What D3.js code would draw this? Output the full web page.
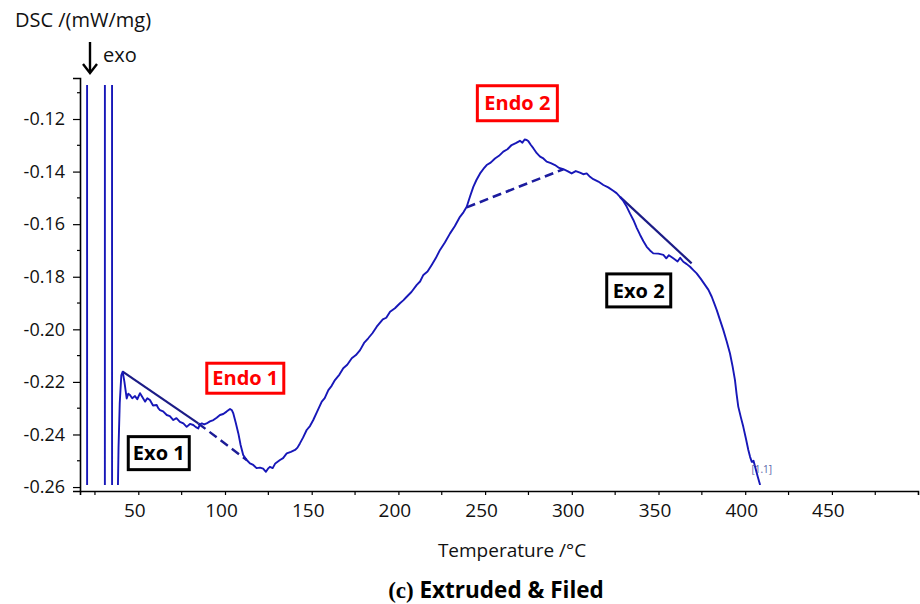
<!DOCTYPE html>
<html>
<head>
<meta charset="utf-8">
<script src="https://cdn.jsdelivr.net/npm/d3@7"></script>
<style>
  html, body { margin: 0; padding: 0; background: #ffffff; }
  svg { display: block; }
</style>
</head>
<body>
<svg id="chart" width="920" height="604"></svg>
<script>
// DSC heating scan: temperature (°C) and heat flow (mW/mg)
const temperature = [
  20.4, 20.5, 30.7, 30.8, 34.8, 34.9, 38.1, 38.2, 38.6, 39.3, 40.2, 41.0, 42.0, 43.3, 44.2, 45.2,
  46.5, 48.1, 49.4, 51.0, 52.4, 53.9, 55.2, 56.7, 58.5, 60.6, 61.5, 62.5, 64.3, 66.4, 68.2, 70.2,
  72.0, 74.0, 76.0, 77.9, 79.8, 81.7, 83.2, 84.6, 85.5, 86.6, 88.0, 89.4, 91.3, 93.3, 95.2, 97.1,
  99.0, 100.9, 102.9, 104.0, 104.8, 106.2, 107.7, 109.0, 110.5, 112.5, 114.4, 116.3, 118.2, 120.2,
  122.0, 123.6, 124.8, 125.9, 127.5, 129.0, 131.7, 133.5, 135.6, 138.0, 140.4, 141.8, 143.2, 145.0,
  147.1, 149.0, 150.9, 153.0, 155.8, 157.5, 159.6, 161.5, 163.4, 166.0, 168.2, 170.5, 173.1, 175.5,
  177.9, 180.2, 182.6, 185.0, 187.5, 191.0, 193.0, 195.2, 198.0, 200.9, 202.8, 204.8, 207.5, 210.6,
  212.5, 214.4, 216.8, 219.2, 221.5, 224.0, 226.8, 229.8, 232.5, 235.5, 237.5, 239.4, 241.3, 243.2,
  245.0, 247.1, 249.0, 250.9, 253.2, 255.7, 258.0, 260.5, 262.9, 265.3, 267.7, 270.1, 271.5, 272.8,
  274.0, 275.0, 276.3, 277.8, 279.8, 281.7, 283.6, 285.5, 287.9, 290.3, 292.7, 295.1, 297.5, 299.9,
  302.3, 304.7, 306.6, 308.6, 310.5, 312.4, 315.3, 318.2, 321.0, 323.9, 325.8, 327.8, 329.7, 331.7,
  333.6, 335.5, 337.5, 339.4, 341.3, 343.2, 345.1, 347.0, 349.9, 352.8, 354.5, 356.0, 358.5, 361.0,
  362.5, 364.3, 366.3, 368.2, 370.1, 372.0, 374.4, 376.8, 378.8, 380.7, 382.1, 383.6, 385.5, 387.4,
  389.3, 391.2, 392.7, 394.1, 395.0, 396.0, 397.5, 398.9, 400.4, 401.8, 402.8, 403.8, 404.8, 405.7,
  407.2, 408.6
];
const heatFlow = [
  0.5, -0.5, -0.5, 0.5, 0.5, -0.5, -0.5, -0.262, -0.245, -0.228, -0.2175, -0.2161, -0.2200, -0.2263, -0.2245, -0.2250,
  -0.2262, -0.2254, -0.2266, -0.2243, -0.2258, -0.2275, -0.2262, -0.2269, -0.2290, -0.2288, -0.2300, -0.2307, -0.2312, -0.2326, -0.2330, -0.2345,
  -0.2338, -0.2352, -0.2358, -0.2371, -0.2360, -0.2364, -0.2372, -0.2377, -0.2362, -0.2358, -0.2362, -0.2358, -0.2350, -0.2345, -0.2336, -0.2326,
  -0.2322, -0.2313, -0.2303, -0.2308, -0.2320, -0.2355, -0.2396, -0.2440, -0.2478, -0.2497, -0.2510, -0.2516, -0.2528, -0.2526,
  -0.2530, -0.2542, -0.2530, -0.2523, -0.2528, -0.2510, -0.2497, -0.2490, -0.2472, -0.2466, -0.2459, -0.2450, -0.2434, -0.2412,
  -0.2383, -0.2368, -0.2345, -0.2315, -0.2275, -0.2262, -0.2231, -0.2215, -0.2193, -0.2172, -0.2148, -0.2135, -0.2110, -0.2098,
  -0.2079, -0.2052, -0.2034, -0.2015, -0.1990, -0.1962, -0.1956, -0.1933, -0.1920, -0.1901, -0.1890, -0.1876, -0.1858, -0.1831,
  -0.1818, -0.1793, -0.1780, -0.1755, -0.1730, -0.1698, -0.1670, -0.1635, -0.1608, -0.1572, -0.1555, -0.1534, -0.1495, -0.1458,
  -0.1432, -0.1407, -0.1390, -0.1375, -0.1366, -0.1350, -0.1340, -0.1324, -0.1315, -0.1299, -0.1292, -0.1283, -0.1290, -0.1278,
  -0.1280, -0.1285, -0.1298, -0.1311, -0.1330, -0.1343, -0.1350, -0.1362, -0.1368, -0.1375, -0.1386, -0.1391, -0.1398, -0.1407,
  -0.1398, -0.1404, -0.1410, -0.1407, -0.1420, -0.1429, -0.1438, -0.1451, -0.1460, -0.1473, -0.1482, -0.1496, -0.1512, -0.1534,
  -0.1560, -0.1584, -0.1615, -0.1641, -0.1665, -0.1686, -0.1700, -0.1711, -0.1712, -0.1717, -0.1730, -0.1718, -0.1730, -0.1742,
  -0.1728, -0.1743, -0.1752, -0.1762, -0.1775, -0.1787, -0.1808, -0.1831, -0.1850, -0.1876, -0.1900, -0.1927, -0.1965, -0.2003,
  -0.2045, -0.2091, -0.2140, -0.2193, -0.2245, -0.2294, -0.2335, -0.2371, -0.2415, -0.2459, -0.2485, -0.2504, -0.2500, -0.2523,
  -0.2560, -0.2592
];

// Construction baselines for the thermal events
const exo1Solid = [[41.0, -0.2161], [84.6, -0.2358]];
const exo1Dashed = [[84.6, -0.2358], [112.5, -0.2497]];
const endo2Dashed = [[239.4, -0.1536], [295.1, -0.1391]];
const exo2Solid = [[327.8, -0.1496], [369.1, -0.1749]];

// Event labels (centre position in data units)
const eventLabels = [
  { text: "Endo 1", t: 111.7, v: -0.2186, kind: "endo", w: 77, h: 30 },
  { text: "Exo 1",  t: 61.8,  v: -0.2471, kind: "exo",  w: 61, h: 33 },
  { text: "Endo 2", t: 268.6, v: -0.1140, kind: "endo", w: 80, h: 35 },
  { text: "Exo 2",  t: 338.6, v: -0.1852, kind: "exo",  w: 64, h: 33 }
];

const xMajorTicks = [50, 100, 150, 200, 250, 300, 350, 400, 450];
const xMinorTicks = [25, 75, 125, 175, 225, 275, 325, 375, 425, 475];
const yMajorTicks = [-0.12, -0.14, -0.16, -0.18, -0.20, -0.22, -0.24, -0.26];
const yMinorTicks = [-0.11, -0.13, -0.15, -0.17, -0.19, -0.21, -0.23, -0.25];

const svg = d3.select("#chart");
const font = "'Open Sans', 'DejaVu Sans', sans-serif";

const plotLeft = 80, plotRight = 918, plotTop = 78, plotBottom = 491;
const x = d3.scaleLinear().domain([16.38, 499.65]).range([plotLeft, plotRight]);
const y = d3.scaleLinear().domain([-0.2615, -0.1044]).range([plotBottom, plotTop]);

// clip for the trace
svg.append("clipPath").attr("id", "plotClip")
  .append("rect").attr("x", plotLeft).attr("y", 85).attr("width", plotRight - plotLeft).attr("height", 400);

// axes
const xAxis = d3.axisBottom(x).tickValues(xMajorTicks).tickSize(4).tickFormat(d3.format("d"));
const gx = svg.append("g").attr("transform", `translate(0,${plotBottom})`).call(xAxis);
gx.select(".domain").attr("stroke", "#000").attr("stroke-width", 1.6);
gx.selectAll(".tick line").attr("stroke", "#000").attr("stroke-width", 1.2);
gx.selectAll(".tick text").attr("font-family", font).attr("font-size", 19).attr("fill", "#111")
  .attr("dx", -4).attr("y", 13);
gx.append("g").selectAll("line").data(xMinorTicks).join("line")
  .attr("x1", d => x(d)).attr("x2", d => x(d)).attr("y1", 0).attr("y2", 4)
  .attr("stroke", "#000").attr("stroke-width", 1.2);

// hyphen-minus labels, two decimals
const yFmt = d => d.toFixed(2);
const yAxis = d3.axisLeft(y).tickValues(yMajorTicks).tickSize(7).tickFormat(yFmt);
const gy = svg.append("g").attr("transform", `translate(${plotLeft},0)`).call(yAxis);
gy.select(".domain").attr("stroke", "#000").attr("stroke-width", 1.6);
gy.selectAll(".tick line").attr("stroke", "#000").attr("stroke-width", 1.2);
gy.selectAll(".tick text").attr("font-family", font).attr("font-size", 18).attr("fill", "#111")
  .attr("x", -15);
gy.append("g").selectAll("line").data(yMinorTicks).join("line")
  .attr("y1", d => y(d)).attr("y2", d => y(d)).attr("x1", 0).attr("x2", -3)
  .attr("stroke", "#000").attr("stroke-width", 1.2);

// axis titles
svg.append("text").attr("x", 15).attr("y", 27).attr("font-family", font).attr("font-size", 20)
  .attr("fill", "#111").text("DSC /(mW/mg)");
svg.append("text").attr("x", 103).attr("y", 62).attr("font-family", font).attr("font-size", 20)
  .attr("fill", "#111").text("exo");
// exo arrow
svg.append("line").attr("x1", 90).attr("x2", 90).attr("y1", 42).attr("y2", 72)
  .attr("stroke", "#000").attr("stroke-width", 2.4);
svg.append("path").attr("d", "M83,64 L90,73 L97,64").attr("fill", "none")
  .attr("stroke", "#000").attr("stroke-width", 2.4);

svg.append("text").attr("x", 512).attr("y", 557).attr("text-anchor", "middle")
  .attr("font-family", font).attr("font-size", 19).attr("fill", "#111").text("Temperature /°C");

const cap = svg.append("text").attr("x", 496).attr("y", 598).attr("text-anchor", "middle")
  .attr("font-weight", "bold").attr("fill", "#000");
cap.append("tspan").attr("font-family", "'Liberation Serif', 'Times New Roman', serif").attr("font-size", 23).text("(c) ");
cap.append("tspan").attr("font-family", font).attr("font-size", 22.5).text("Extruded & Filed");

// baselines
const line = d3.line().x(d => x(d[0])).y(d => y(d[1]));
const base = svg.append("g").attr("fill", "none");
base.append("path").attr("d", line(exo1Solid)).attr("stroke", "#1c1c86").attr("stroke-width", 2.2);
base.append("path").attr("d", line(exo1Dashed)).attr("stroke", "#1c1c96").attr("stroke-width", 2.4)
  .attr("stroke-dasharray", "9,5");
base.append("path").attr("d", line(endo2Dashed)).attr("stroke", "#1c1c9e").attr("stroke-width", 2.6)
  .attr("stroke-dasharray", "9,5");
base.append("path").attr("d", line(exo2Solid)).attr("stroke", "#1c1c86").attr("stroke-width", 2.2);

// DSC trace
const trace = temperature.map((t, i) => [t, heatFlow[i]]);
svg.append("path").attr("clip-path", "url(#plotClip)")
  .attr("d", line(trace)).attr("fill", "none")
  .attr("stroke", "#1717b8").attr("stroke-width", 1.9).attr("stroke-linejoin", "round");

// segment marker at the end of the trace
svg.append("text").attr("x", x(403.6)).attr("y", y(-0.2548)).attr("font-family", font)
  .attr("font-size", 10).attr("fill", "#5865a8").text("[1.1]");

// event labels
const ev = svg.append("g").selectAll("g").data(eventLabels).join("g")
  .attr("transform", d => `translate(${x(d.t)},${y(d.v)})`);
ev.append("rect")
  .attr("x", d => -d.w / 2).attr("y", d => -d.h / 2).attr("width", d => d.w).attr("height", d => d.h)
  .attr("fill", "#fff").attr("stroke", d => d.kind === "endo" ? "#ff0000" : "#000").attr("stroke-width", 3);
ev.append("text").attr("text-anchor", "middle").attr("dy", "0.36em")
  .attr("font-family", font).attr("font-weight", "bold").attr("font-size", 20)
  .attr("fill", d => d.kind === "endo" ? "#ff0000" : "#000").text(d => d.text);
</script>
</body>
</html>
